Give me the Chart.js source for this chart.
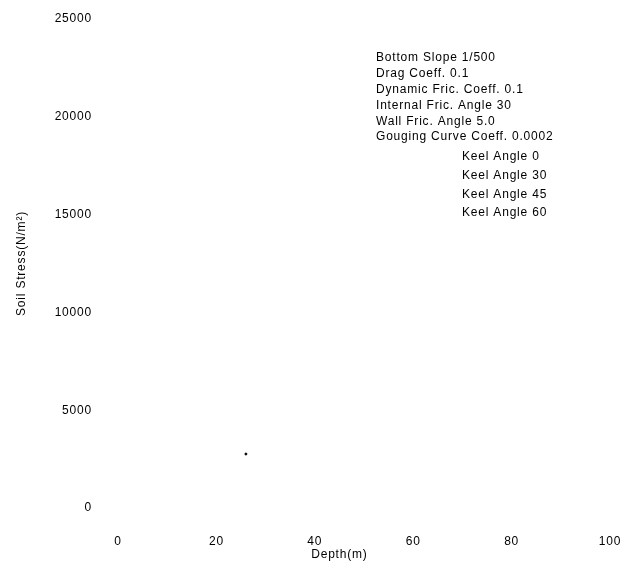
<!DOCTYPE html>
<html>
<head>
<meta charset="utf-8">
<script src="https://cdn.jsdelivr.net/npm/chart.js@4"></script>
<style>
  html, body { margin: 0; padding: 0; background: #fff; }
  #wrap { width: 637px; height: 563px; position: relative; }
</style>
</head>
<body>
<div id="wrap"><canvas id="soil-chart"></canvas></div>
<script>
// values
const seriesLabels = ['Keel Angle 0', 'Keel Angle 30', 'Keel Angle 45', 'Keel Angle 60'];
const depthValues = [[26], [], [], []];
const stressValues = [[2760], [], [], []];
const paramLines = [
    'Bottom Slope 1/500',
    'Drag Coeff. 0.1',
    'Dynamic Fric. Coeff. 0.1',
    'Internal Fric. Angle 30',
    'Wall Fric. Angle 5.0',
    'Gouging Curve Coeff. 0.0002'
];
const xTitle = 'Depth(m)';
const yTitle = 'Soil Stress(N/m\u00b2)';

const FONT = '"Liberation Sans", Arial, sans-serif';

// parameter block, keel legend and x title are drawn straight onto the canvas
const notesPlugin = {
    id: 'notes',
    beforeDraw(chart) {
        chart.ctx.letterSpacing = '0.8px';
    },
    afterDraw(chart) {
        const ctx = chart.ctx;
        ctx.save();
        ctx.letterSpacing = '0.8px';
        ctx.fillStyle = '#000';
        ctx.font = '12px ' + FONT;
        ctx.textBaseline = 'middle';
        ctx.textAlign = 'left';
        paramLines.forEach((line, i) => {
            ctx.fillText(line, 376, 58 + i * 15.8);
        });
        chart.data.datasets.forEach((ds, i) => {
            ctx.fillText(ds.label, 462, 157 + i * 18.6);
        });
        ctx.textAlign = 'center';
        ctx.fillText(xTitle, chart.scales.x.getPixelForValue(45), 555);
        ctx.restore();
    }
};

const ctx = document.getElementById('soil-chart').getContext('2d');
new Chart(ctx, {
    type: 'scatter',
    data: {
        datasets: seriesLabels.map((label, i) => ({
            label: label,
            data: depthValues[i].map((d, j) => ({ x: d, y: stressValues[i][j] })),
            backgroundColor: '#000',
            borderColor: '#000',
            pointRadius: 1,
            pointHoverRadius: 1,
            showLine: false
        }))
    },
    options: {
        responsive: true,
        maintainAspectRatio: false,
        animation: false,
        layout: {
            padding: { left: 10, right: 27, top: 19, bottom: 0 }
        },
        plugins: {
            legend: { display: false },
            tooltip: { enabled: false }
        },
        scales: {
            x: {
                type: 'linear',
                min: 0,
                max: 100,
                grid: { display: false, drawTicks: false },
                border: { display: false },
                ticks: {
                    stepSize: 20,
                    color: '#000',
                    padding: 26,
                    maxRotation: 0,
                    font: { family: FONT, size: 12 },
                    callback: (v) => String(v)
                },
                afterFit(scale) {
                    scale.height = 55;
                    scale.paddingLeft = 0;
                    scale.paddingRight = 0;
                }
            },
            y: {
                type: 'linear',
                min: 0,
                max: 25000,
                grid: { display: false, drawTicks: false },
                border: { display: false },
                ticks: {
                    stepSize: 5000,
                    color: '#000',
                    padding: 26,
                    font: { family: FONT, size: 12 },
                    callback: (v) => String(v)
                },
                title: {
                    display: true,
                    text: yTitle,
                    color: '#000',
                    padding: { top: 4, bottom: 4 },
                    font: { family: FONT, size: 12 }
                },
                afterFit(scale) {
                    scale.width = 108;
                    scale.paddingTop = 0;
                    scale.paddingBottom = 0;
                }
            }
        }
    },
    plugins: [notesPlugin]
});
</script>
</body>
</html>
